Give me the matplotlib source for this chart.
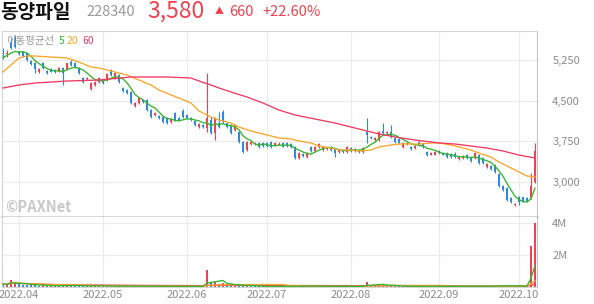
import matplotlib
matplotlib.use('Agg')
import matplotlib.pyplot as plt
import numpy as np
import pandas as pd

plt.rcParams['font.family'] = ['Noto Sans CJK KR', 'DejaVu Sans']

# ---------------- data ----------------
holidays = ['2022-05-05', '2022-06-01', '2022-06-06', '2022-08-15',
            '2022-09-09', '2022-09-12', '2022-10-03', '2022-10-10']
dates = pd.bdate_range('2022-03-28', '2022-10-11')
dates = dates[~dates.isin(pd.to_datetime(holidays))]

opens = [5430, 5360, 5560, 5650, 5400, 5400, 5380, 5230, 5195, 5030, 5190, 5050, 5085, 5060, 5030, 5100, 5080, 5210, 5190, 5100,
         4920, 4900, 4715, 4790, 4845, 4880, 4880, 5065, 4920, 4975, 4735, 4700, 4660, 4400, 4460, 4510, 4510, 4330, 4240, 4220,
         4200, 4180, 4105, 4275, 4180, 4310, 4235, 4180, 4125, 4015, 4050, 4000, 4145, 3905, 4090, 4290, 4090, 4050, 3960, 3920,
         3740, 3590, 3700, 3700, 3720, 3720, 3720, 3740, 3685, 3690, 3720, 3720, 3700, 3645, 3445, 3520, 3460, 3645, 3570, 3645,
         3590, 3600, 3645, 3610, 3555, 3590, 3555, 3625, 3570, 3590, 3555, 3920, 3830, 3775, 3775, 3940, 3905, 3920, 3810, 3790,
         3645, 3700, 3645, 3625, 3740, 3700, 3555, 3500, 3500, 3570, 3535, 3535, 3520, 3520, 3425, 3445, 3500, 3460, 3445, 3500,
         3445, 3275, 3295, 3315, 3150, 2925, 2890, 2705, 2575, 2725, 2720, 2705, 2705, 3000]
highs = [5470, 5430, 5650, 5710, 5420, 5420, 5400, 5250, 5210, 5100, 5210, 5070, 5100, 5080, 5120, 5120, 5200, 5250, 5210, 5120,
         4940, 4940, 4840, 4860, 4940, 4900, 5010, 5090, 5030, 4990, 4760, 4720, 4680, 4470, 4570, 4530, 4530, 4350, 4290, 4240,
         4220, 4200, 4180, 4300, 4200, 4340, 4260, 4200, 4140, 4090, 4070, 5010, 4200, 4200, 4290, 4330, 4110, 4070, 4070, 3940,
         3760, 3760, 3760, 3740, 3740, 3740, 3730, 3760, 3740, 3730, 3740, 3730, 3720, 3660, 3560, 3540, 3550, 3660, 3660, 3720,
         3660, 3640, 3660, 3620, 3610, 3600, 3660, 3640, 3620, 3600, 3640, 4180, 3850, 3830, 3940, 4090, 3940, 4050, 3830, 3810,
         3740, 3740, 3660, 3680, 3760, 3720, 3570, 3550, 3570, 3590, 3550, 3550, 3540, 3555, 3470, 3500, 3520, 3480, 3550, 3520,
         3460, 3350, 3310, 3330, 3160, 2940, 2900, 2720, 2610, 2740, 2730, 2720, 3170, 3720]
lows = [5270, 5300, 5450, 5470, 5340, 5300, 5240, 5160, 5010, 5010, 5080, 5000, 5020, 5010, 5020, 4790, 5060, 5140, 5100, 4990,
        4830, 4880, 4700, 4770, 4830, 4810, 4860, 4960, 4900, 4830, 4660, 4620, 4440, 4380, 4440, 4460, 4310, 4180, 4220, 4160,
        4090, 4070, 4090, 4130, 4130, 4180, 4160, 4130, 4030, 4000, 4000, 3920, 3890, 3775, 4000, 4090, 4000, 3890, 3940, 3720,
        3540, 3570, 3680, 3680, 3630, 3650, 3650, 3630, 3670, 3680, 3640, 3650, 3630, 3420, 3430, 3470, 3450, 3560, 3560, 3630,
        3580, 3590, 3580, 3460, 3540, 3540, 3540, 3560, 3560, 3540, 3540, 3720, 3790, 3760, 3760, 3890, 3890, 3810, 3720, 3700,
        3630, 3690, 3590, 3610, 3670, 3630, 3480, 3490, 3490, 3520, 3490, 3450, 3450, 3450, 3410, 3430, 3430, 3370, 3430, 3330,
        3340, 3260, 3220, 3170, 2910, 2840, 2650, 2610, 2560, 2580, 2630, 2640, 2680, 2980]
closes = [5290, 5380, 5470, 5490, 5360, 5320, 5250, 5180, 5085, 5080, 5100, 5010, 5030, 5030, 5100, 5010, 5190, 5160, 5120, 5010,
          4845, 4920, 4825, 4845, 4920, 4830, 4990, 4975, 5010, 4845, 4680, 4640, 4460, 4455, 4550, 4475, 4330, 4200, 4275, 4180,
          4105, 4090, 4160, 4145, 4145, 4200, 4180, 4145, 4050, 4070, 4015, 4180, 3905, 4180, 4015, 4105, 4015, 3905, 4050, 3740,
          3555, 3740, 3740, 3720, 3650, 3665, 3665, 3650, 3720, 3710, 3650, 3665, 3645, 3445, 3535, 3480, 3535, 3570, 3645, 3700,
          3645, 3620, 3590, 3535, 3590, 3555, 3645, 3570, 3610, 3555, 3625, 3865, 3810, 3810, 3920, 3905, 3920, 3830, 3740, 3720,
          3720, 3720, 3610, 3665, 3685, 3645, 3500, 3535, 3555, 3535, 3500, 3460, 3460, 3460, 3460, 3480, 3445, 3390, 3535, 3350,
          3350, 3330, 3240, 3185, 2925, 2855, 2670, 2630, 2600, 2635, 2650, 2650, 2920, 3580]
volumes_k = [180, 150, 450, 220, 160, 130, 150, 120, 140, 90, 110,
             80, 70, 60, 70, 140, 110, 70, 60, 70, 90, 50, 110, 70, 60,
             50, 70, 60, 50, 60, 60, 50, 80, 60, 50, 40, 70, 60, 40, 40, 50, 50, 40, 60, 40, 50, 40, 40, 60, 40, 40,
             1050, 250, 300, 200, 230, 130, 100, 90,
             120, 110, 90, 50, 40, 40, 50, 40, 40, 50, 40, 40, 40, 40, 90, 60, 50, 50, 50, 60, 50, 40, 40, 40, 60, 40,
             40, 50, 40, 40, 40, 50,
             320, 130, 110, 150, 120, 80, 100,
             60, 50, 50, 40, 40, 40, 50, 40, 50, 40, 40, 40, 40, 50, 40, 40, 40, 40, 50, 40, 50, 60, 50, 40, 50, 70,
             90, 80, 90, 70, 60, 50, 50, 50,
             2550, 4020]

# moving averages (candle index, price)
ma20_idx = [0, 2, 4, 6, 8, 12, 16, 19, 22, 24, 27, 29, 31, 34, 37, 39, 42, 44, 47, 49, 52, 54, 57, 59, 62, 64, 67,
            69, 72, 74, 77, 79, 82, 84, 87, 89, 92, 94, 97, 99, 104, 107, 109, 112, 114, 117, 119, 122, 124, 127,
            129, 131, 133]
ma20_val = [5029, 5158, 5287, 5324, 5324, 5305, 5287, 5213, 5121, 5102, 5047, 5010, 4973, 4881, 4789, 4697, 4605,
            4549, 4457, 4310, 4199, 4144, 4088, 4014, 3941, 3904, 3849, 3812, 3793, 3756, 3720, 3664, 3627, 3590,
            3590, 3572, 3590, 3646, 3683, 3701, 3701, 3720, 3720, 3683, 3646, 3590, 3535, 3461, 3369, 3259, 3185,
            3111, 3093]
ma60_idx = [0, 4, 8, 12, 16, 24, 32, 41, 47, 49, 52, 54, 57, 61, 65, 69, 73, 78, 83, 88, 93, 98, 103, 109, 113,
            121, 125, 129, 133]
ma60_val = [4734, 4789, 4826, 4844, 4863, 4881, 4937, 4937, 4918, 4863, 4789, 4734, 4660, 4568, 4457, 4328, 4236,
            4162, 4088, 3996, 3904, 3830, 3775, 3720, 3701, 3627, 3572, 3498, 3443]

price_ticks = [3000, 3750, 4500, 5250]
vol_ticks = [2000000, 4000000]
vol_tick_labels = ['2M', '4M']

name = '동양파일'
code = '228340'
last_price = '3,580'
change = '660'
change_pct = '+22.60%'

# ---------------- style ----------------
RED = '#f2404f'
BLUE = '#2a8ae6'
GREEN = '#35b52c'
ORANGE = '#f9a62a'
PINK = '#f03a62'
GRID = '#ececec'
TXT = '#8c8c8c'

W, H = 594, 304
fig = plt.figure(figsize=(W / 100, H / 100), dpi=100)
ax = fig.add_axes([2 / W, 87 / H, 535 / W, 186 / H])
axv = fig.add_axes([2 / W, 17 / H, 535 / W, 70 / H], sharex=ax)

o = np.array(opens, float)
h = np.array(highs, float)
l = np.array(lows, float)
c = np.array(closes, float)
v = np.array(volumes_k, float) * 1000
x = np.arange(len(dates))

up = c >= o
cols = np.where(up, RED, BLUE)

ax.vlines(x, l, h, colors=cols, lw=0.8, zorder=2)
body = np.maximum(np.abs(c - o), 12)
ax.bar(x, body, bottom=np.minimum(o, c), width=0.72, color=cols, zorder=2, linewidth=0)

ma5 = pd.Series(c).rolling(5, min_periods=1).mean()
ax.plot(x, ma5, color=GREEN, lw=0.95, zorder=3)
ax.plot(ma20_idx, ma20_val, color=ORANGE, lw=0.95, zorder=3)
ax.plot(ma60_idx, ma60_val, color=PINK, lw=0.95, zorder=3)

ax.set_xlim(-0.25, len(x) - 0.5)
ax.set_ylim(2355, 5785)
ax.yaxis.tick_right()
ax.set_yticks(price_ticks)
ax.set_yticklabels([f'{t:,}' for t in price_ticks])
ax.tick_params(axis='y', length=0, pad=11, labelsize=8, labelcolor=TXT)
ax.tick_params(axis='x', length=0, labelbottom=False)

# month grid
month_idx = [i for i in range(1, len(dates)) if dates[i].month != dates[i - 1].month]
month_lab = [dates[i].strftime('%Y.%m') for i in month_idx]
for a in (ax, axv):
    a.set_xticks(month_idx)
    a.grid(True, color=GRID, lw=0.9, zorder=0)
    a.set_axisbelow(True)
    for s in ('left', 'top'):
        a.spines[s].set_color('#d4d4d4')
        a.spines[s].set_linewidth(0.8)
    a.spines['right'].set_color('#c4c4c4')
    a.spines['right'].set_linewidth(0.8)
ax.spines['bottom'].set_color('#333333')
ax.spines['bottom'].set_linewidth(1.0)
axv.spines['top'].set_visible(False)
axv.spines['bottom'].set_color('#d4d4d4')

# volume
prev = np.concatenate([[c[0]], c[:-1]])
vcols = np.where(c > prev, RED, BLUE)
axv.bar(x, v, width=0.72, color=vcols, linewidth=0, zorder=2)
vs = pd.Series(v)
axv.plot(x, vs.rolling(60, min_periods=1).mean(), color=PINK, lw=0.95, zorder=3)
axv.plot(x, vs.rolling(20, min_periods=1).mean(), color=ORANGE, lw=0.95, zorder=3)
axv.plot(x, vs.rolling(5, min_periods=1).mean(), color=GREEN, lw=0.95, zorder=3)
axv.set_ylim(0, 4375000)
axv.yaxis.tick_right()
axv.set_yticks(vol_ticks)
axv.set_yticklabels(vol_tick_labels)
axv.tick_params(axis='y', length=0, pad=11, labelsize=8, labelcolor=TXT)
axv.set_xticklabels(month_lab)
axv.tick_params(axis='x', length=0, pad=2, labelsize=8, labelcolor=TXT)

# header texts
def fx(px):
    return px / W

def fy(py):
    return 1 - py / H

fig.text(fx(0), fy(12), name, fontsize=13.8, fontweight='bold', color='#111111', va='center', ha='left')
fig.text(fx(86), fy(12), code, fontsize=10.5, color='#9a9a9a', va='center', ha='left')
fig.text(fx(147), fy(11), last_price, fontsize=16.5, color=RED, va='center', ha='left')
fig.text(fx(215), fy(12), '▲', fontsize=6.5, color=RED, va='center', ha='left')
fig.text(fx(229), fy(12), change, fontsize=10.5, color=RED, va='center', ha='left')
fig.text(fx(262), fy(12), change_pct, fontsize=10.5, color=RED, va='center', ha='left')

# MA legend
fig.text(fx(6), fy(41), '이동평균선', fontsize=7.5, color='#999999', va='center', ha='left')
fig.text(fx(59), fy(41), '5', fontsize=7.5, color=GREEN, va='center', ha='left')
fig.text(fx(67), fy(41), '20', fontsize=7.5, color=ORANGE, va='center', ha='left')
fig.text(fx(82), fy(41), '60', fontsize=7.5, color=PINK, va='center', ha='left')

# watermark
fig.text(fx(5), fy(207), '©PAXNet', fontsize=10.5, fontweight='bold', color='#c8c8c8', va='center', ha='left')

fig.savefig('out.png', dpi=100)
